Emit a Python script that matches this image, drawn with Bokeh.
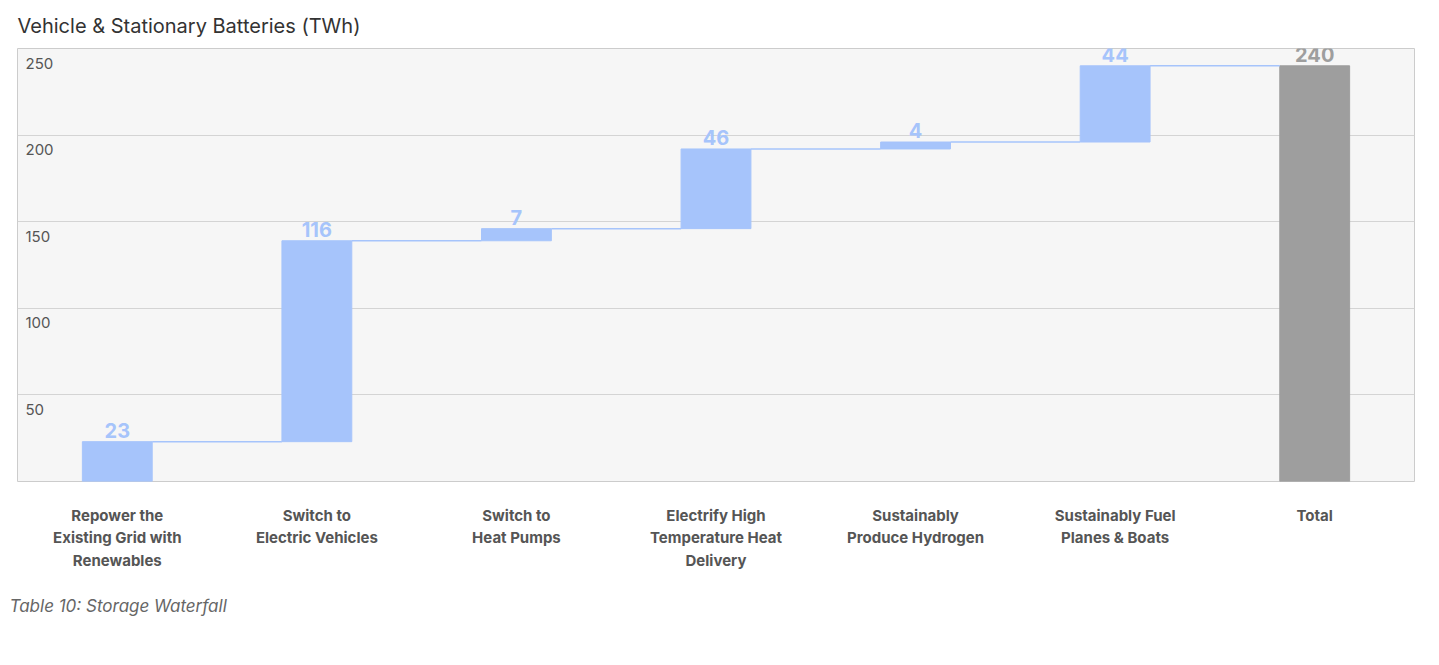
from bokeh.plotting import figure
from bokeh.models import FixedTicker, Title, Range1d
from bokeh.core.properties import value
from bokeh.embed import file_html
from bokeh.resources import INLINE

categories = ["Repower the\nExisting Grid with\nRenewables", "Switch to\nElectric Vehicles",
              "Switch to\nHeat Pumps", "Electrify High\nTemperature Heat\nDelivery",
              "Sustainably\nProduce Hydrogen", "Sustainably Fuel\nPlanes & Boats", "Total"]
steps = [23, 116, 7, 46, 4, 44]
total = 240
y_ticks = [50, 100, 150, 200, 250]

FONT = "Inter"
BLUE = "#a6c4fb"
GREY = "#9e9e9e"

# waterfall bottoms / tops
bottoms, tops = [], []
run = 0
for s in steps:
    bottoms.append(run)
    run += s
    tops.append(run)
xs = list(range(len(steps)))
bw = 0.35

p = figure(frame_width=1397, frame_height=433, output_backend="svg", toolbar_location=None,
           x_range=Range1d(-0.5, 6.5), y_range=Range1d(0, 250),
           min_border_left=17, min_border_right=3, min_border_top=30, min_border_bottom=20)
p.title.text = "Vehicle & Stationary Batteries (TWh)"
p.title.text_font = FONT
p.title.text_font_size = "20px"
p.title.text_font_style = "normal"
p.title.text_color = "#333333"
p.title.offset = 0
p.title.standoff = 22

p.background_fill_color = "#f6f6f6"
p.outline_line_color = "#cccccc"

p.vbar(x=xs, bottom=bottoms, top=tops, width=bw, color=BLUE)
p.vbar(x=[6], bottom=[0], top=[total], width=bw, color=GREY)

# connectors
p.segment(x0=[x + bw / 2 for x in xs], y0=tops, x1=[x + 1 - bw / 2 for x in xs], y1=tops,
          line_color=BLUE, line_width=1.5)

p.text(x=xs, y=tops, text=[str(s) for s in steps], text_align="center", text_baseline="bottom",
       y_offset=-4, text_font=value(FONT), text_font_size="20px", text_font_style="bold",
       text_color=BLUE)
p.text(x=[6], y=[total], text=[str(total)], text_align="center", text_baseline="bottom",
       y_offset=-4, text_font=value(FONT), text_font_size="20px", text_font_style="bold",
       text_color=GREY)

# y tick labels inside the frame
p.text(x=[-0.5] * len(y_ticks), y=y_ticks, text=[str(v) for v in y_ticks], x_offset=8, y_offset=9,
       text_baseline="top", text_font=value(FONT), text_font_size="15px", text_color="#555555")
p.yaxis.visible = False
p.ygrid.ticker = FixedTicker(ticks=y_ticks)
p.ygrid.grid_line_color = "#d4d4d4"
p.ygrid.grid_line_width = 1.2
p.xgrid.visible = False

p.xaxis.ticker = FixedTicker(ticks=list(range(7)))
p.xaxis.major_label_overrides = {i: c for i, c in enumerate(categories)}
p.xaxis.axis_line_color = None
p.xaxis.major_tick_line_color = None
p.xaxis.minor_tick_line_color = None
p.xaxis.major_label_standoff = 18
p.xaxis.major_label_text_font = FONT
p.xaxis.major_label_text_font_size = "15px"
p.xaxis.major_label_text_font_style = "bold"
p.xaxis.major_label_text_color = "#555555"
p.xaxis.major_label_text_line_height = 1.2

cap = Title(text="Table 10: Storage Waterfall", text_font=FONT, text_font_size="17px",
            text_font_style="italic", text_color="#666666", offset=-8, standoff=40)
p.add_layout(cap, "below")

open("out.html", "w").write(file_html(p, INLINE))
